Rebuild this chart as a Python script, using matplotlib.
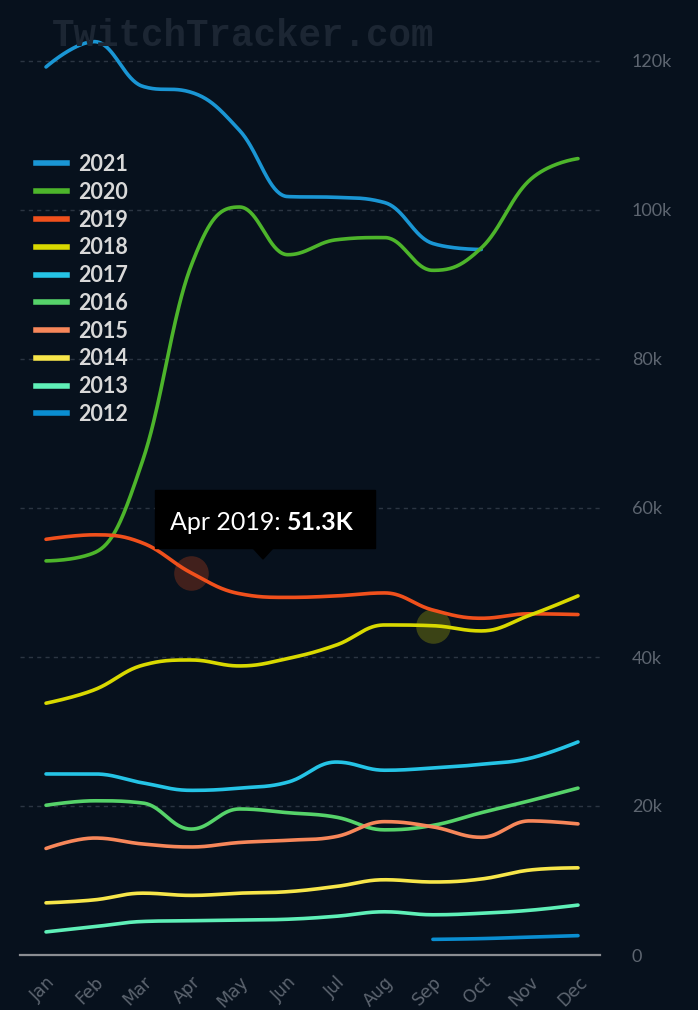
import numpy as np
import matplotlib.pyplot as plt
from matplotlib.patches import Rectangle, Polygon
from matplotlib.lines import Line2D

plt.rcParams['font.family'] = ['Lato', 'DejaVu Sans']

months = ["Jan", "Feb", "Mar", "Apr", "May", "Jun",
          "Jul", "Aug", "Sep", "Oct", "Nov", "Dec"]

# average viewers, thousands (None = no data that month)
y2021 = [119.2, 122.6, 116.6, 115.8, 110.7, 101.8, 101.7, 101.0, 95.5, 94.7, None, None]
y2020 = [52.9, 54.0, 66.4, 92.5, 100.4, 94.0, 96.0, 96.3, 91.9, 94.9, 104.0, 106.9]
y2019 = [55.8, 56.4, 55.3, 51.3, 48.5, 48.0, 48.2, 48.6, 46.3, 45.2, 45.8, 45.7]
y2018 = [33.8, 35.6, 38.9, 39.6, 38.8, 39.8, 41.6, 44.3, 44.2, 43.5, 45.6, 48.2]
y2017 = [24.3, 24.3, 23.1, 22.1, 22.4, 23.2, 25.9, 24.8, 25.1, 25.6, 26.4, 28.6]
y2016 = [20.1, 20.7, 20.4, 16.9, 19.6, 19.1, 18.5, 16.8, 17.4, 19.1, 20.7, 22.4]
y2015 = [14.3, 15.7, 14.9, 14.5, 15.1, 15.4, 15.9, 17.9, 17.2, 15.8, 18.0, 17.6]
y2014 = [7.0, 7.4, 8.3, 8.0, 8.3, 8.5, 9.2, 10.1, 9.8, 10.2, 11.4, 11.7]
y2013 = [3.1, 3.8, 4.5, 4.6, 4.7, 4.8, 5.2, 5.8, 5.4, 5.6, 6.0, 6.7]
y2012 = [None, None, None, None, None, None, None, None, 2.1, 2.2, 2.4, 2.6]

years = ["2021", "2020", "2019", "2018", "2017", "2016", "2015", "2014", "2013", "2012"]
values = [y2021, y2020, y2019, y2018, y2017, y2016, y2015, y2014, y2013, y2012]
colors = ["#1a96d4", "#4db52b", "#f0501c", "#d9d900", "#25c4e6",
          "#56d36a", "#f7875a", "#f7e64a", "#5ff0b8", "#0a8ed1"]

yticks = [0, 20, 40, 60, 80, 100, 120]

# hovered points shown in the screenshot
hover = [("2019", 3), ("2018", 8)]
tip_year, tip_month = "2019", 3

bg = "#07111d"
grey = "#5d6570"


def spline(xs, ys, n=40):
    # highcharts-like smoothing of a line through the points
    pts = list(zip(xs, ys))
    sm, den = 1.5, 2.5
    left, right = [], []
    for i, (x, y) in enumerate(pts):
        if 0 < i < len(pts) - 1:
            lx, ly = pts[i - 1]
            nx, ny = pts[i + 1]
            lcx, lcy = (sm * x + lx) / den, (sm * y + ly) / den
            rcx, rcy = (sm * x + nx) / den, (sm * y + ny) / den
            corr = (rcy - lcy) * (rcx - x) / (rcx - lcx) + y - rcy
            lcy += corr
            rcy += corr
            if lcy > ly and lcy > y:
                lcy = max(ly, y); rcy = 2 * y - lcy
            elif lcy < ly and lcy < y:
                lcy = min(ly, y); rcy = 2 * y - lcy
            if rcy > ny and rcy > y:
                rcy = max(ny, y); lcy = 2 * y - rcy
            elif rcy < ny and rcy < y:
                rcy = min(ny, y); lcy = 2 * y - rcy
            left.append((lcx, lcy)); right.append((rcx, rcy))
        else:
            left.append((x, y)); right.append((x, y))
    t = np.linspace(0, 1, n)[:, None]
    segs = []
    for i in range(len(pts) - 1):
        p0, p1 = np.array(pts[i]), np.array(right[i])
        p2, p3 = np.array(left[i + 1]), np.array(pts[i + 1])
        segs.append((1 - t) ** 3 * p0 + 3 * (1 - t) ** 2 * t * p1
                    + 3 * (1 - t) * t ** 2 * p2 + t ** 3 * p3)
    out = np.vstack(segs)
    return out[:, 0], out[:, 1]


fig = plt.figure(figsize=(6.98, 10.1), dpi=100, facecolor=bg)
ax = fig.add_axes([20 / 698, 55 / 1010, 580 / 698, 931.25 / 1010], facecolor=bg)

fig.text(52 / 698, 1 - 46 / 1010, "TwitchTracker.com", family="Liberation Mono",
         weight="bold", fontsize=27, color="#1c2633", zorder=0)

handles = []
for yr, vals, c in zip(years, values, colors):
    xs = [i for i, v in enumerate(vals) if v is not None]
    ys = [v for v in vals if v is not None]
    sx, sy = spline(xs, ys)
    ax.plot(sx, sy, color=c, lw=2.6, solid_capstyle="round", zorder=3)
    handles.append(Line2D([], [], color=c, lw=4))

for yr, m in hover:
    i = years.index(yr)
    ax.scatter([m], [values[i][m]], s=620, color=colors[i], alpha=0.25,
               lw=0, zorder=2)

ax.set_xlim(-0.538, 11.455)
ax.set_ylim(0, 125)
ax.set_yticks(yticks)
ax.set_yticklabels(["0"] + [f"{v}k" for v in yticks[1:]])
ax.yaxis.tick_right()
ax.tick_params(axis="y", length=0, pad=23, labelsize=13, labelcolor=grey)
ax.set_xticks(range(12))
ax.set_xticklabels(months, rotation=45, ha="right", rotation_mode="anchor",
                   family="DejaVu Sans")
ax.tick_params(axis="x", length=0, pad=13, labelsize=12.5, labelcolor=grey)
for s in ["top", "left", "right"]:
    ax.spines[s].set_visible(False)
ax.spines["bottom"].set_color("#8a8d92")
ax.spines["bottom"].set_linewidth(1.6)
ax.spines["bottom"].set_zorder(4)
ax.grid(axis="y", color="#2b3542", lw=1, ls=(0, (3, 3)))
ax.set_axisbelow(True)

leg = ax.legend(handles, years, loc="upper left", frameon=False,
                bbox_to_anchor=(36 / 698, 1 - 154 / 1010),
                bbox_transform=fig.transFigure, borderaxespad=0, borderpad=0,
                handlelength=1.45, handletextpad=0.5, labelspacing=0.315,
                prop={"weight": "bold", "size": 15.5})
for t in leg.get_texts():
    t.set_color("#d9d9d9")

# tooltip
ti = years.index(tip_year)
fig.patches.append(Rectangle((155 / 698, 462 / 1010), 220 / 698, 58 / 1010,
                             transform=fig.transFigure, color="black", zorder=5))
fig.patches.append(Polygon([(253 / 698, 462 / 1010), (273 / 698, 462 / 1010),
                            (263 / 698, 451 / 1010)], closed=True,
                           transform=fig.transFigure, color="black", zorder=5))
t1 = fig.text(170 / 698, 480 / 1010, f"{months[tip_month]} {tip_year}: ",
              fontsize=18, color="white", zorder=6)
fig.canvas.draw()
bb = t1.get_window_extent()
fig.text(bb.x1 / 698, 480 / 1010, f"{values[ti][tip_month]:.1f}K",
         fontsize=18, weight="bold", color="white", zorder=6)

fig.savefig("out.png", dpi=100, facecolor=bg)
